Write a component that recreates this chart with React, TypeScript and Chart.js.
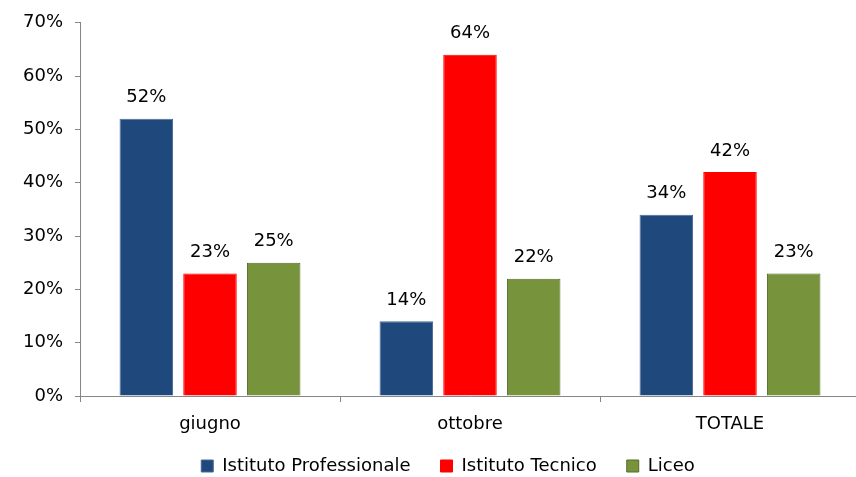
import React, { useEffect, useRef } from "react";
import { Chart, registerables } from "chart.js";

Chart.register(...registerables);

const categories = ["giugno", "ottobre", "TOTALE"];
const professionale = [52, 14, 34];
const tecnico = [23, 64, 42];
const liceo = [25, 22, 23];
const yTicks = [0, 10, 20, 30, 40, 50, 60, 70];

const FONT = "'DejaVu Sans', sans-serif";
const FS = 18;

const valueLabels = {
  id: "valueLabels",
  afterLayout(chart: any) {
    if (chart.legend) {
      chart.legend.top -= 9;
      chart.legend.bottom -= 9;
    }
  },
  afterDatasetsDraw(chart: any) {
    const ctx = chart.ctx;
    ctx.save();
    ctx.font = `${FS}px ${FONT}`;
    ctx.fillStyle = "#000";
    ctx.textAlign = "center";
    ctx.textBaseline = "middle";
    chart.data.datasets.forEach((ds: any, i: number) => {
      const meta = chart.getDatasetMeta(i);
      meta.data.forEach((el: any, j: number) => {
        ctx.fillText(`${ds.data[j]}%`, el.x, el.y - 21);
      });
    });
    ctx.restore();
  },
};

export default function App() {
  const ref = useRef<HTMLCanvasElement>(null);
  useEffect(() => {
    if (!ref.current) return;
    const chart = new Chart(ref.current, {
      type: "bar",
      data: {
        labels: categories,
        datasets: [
          {
            label: "Istituto Professionale",
            data: professionale,
            backgroundColor: "#1F497D",
            borderColor: "#4A6A96",
            borderWidth: 1,
          },
          {
            label: "Istituto Tecnico",
            data: tecnico,
            backgroundColor: "#FF0000",
            borderColor: "#FF0000",
            borderWidth: 1,
          },
          {
            label: "Liceo",
            data: liceo,
            backgroundColor: "#77933C",
            borderColor: "#546C27",
            borderWidth: 1,
          },
        ],
      },
      plugins: [valueLabels],
      options: {
        animation: false,
        responsive: false,
        maintainAspectRatio: false,
        layout: { padding: { top: 20, bottom: 0, left: 0, right: 0 } },
        datasets: {
          bar: { categoryPercentage: 0.735, barPercentage: 0.84 },
        },
        plugins: {
          tooltip: { enabled: false },
          legend: {
            position: "bottom",
            labels: {
              font: { family: FONT, size: FS },
              color: "#000",
              boxWidth: 12,
              boxHeight: 12,
              padding: 30,
            },
          },
        },
        scales: {
          x: {
            grid: { display: true, drawOnChartArea: false, tickLength: 6, color: "#868686" },
            border: { color: "#868686" },
            ticks: { font: { family: FONT, size: FS }, color: "#000", padding: 12 },
            afterFit: (s: any) => {
              s.height = 40;
            },
          },
          y: {
            min: 0,
            max: 70,
            grid: { display: true, drawOnChartArea: false, tickLength: 5, color: "#868686" },
            border: { color: "#868686" },
            afterBuildTicks: (s: any) => {
              s.ticks = yTicks.map((v) => ({ value: v }));
            },
            ticks: {
              font: { family: FONT, size: FS },
              color: "#000",
              padding: 12,
              callback: (v: any) => `${v}%`,
            },
            afterFit: (s: any) => {
              s.width = 80;
            },
          },
          y2: {
            position: "right",
            display: true,
            grid: { display: false },
            border: { display: false },
            ticks: { display: false },
            afterFit: (s: any) => {
              s.width = 36;
            },
          },
        },
      },
    });
    return () => chart.destroy();
  }, []);
  return (
    <div style={{ position: "fixed", left: 0, top: 0, width: 896, height: 494 }}>
      <canvas ref={ref} width={896} height={494} style={{ width: 896, height: 494 }} />
    </div>
  );
}
